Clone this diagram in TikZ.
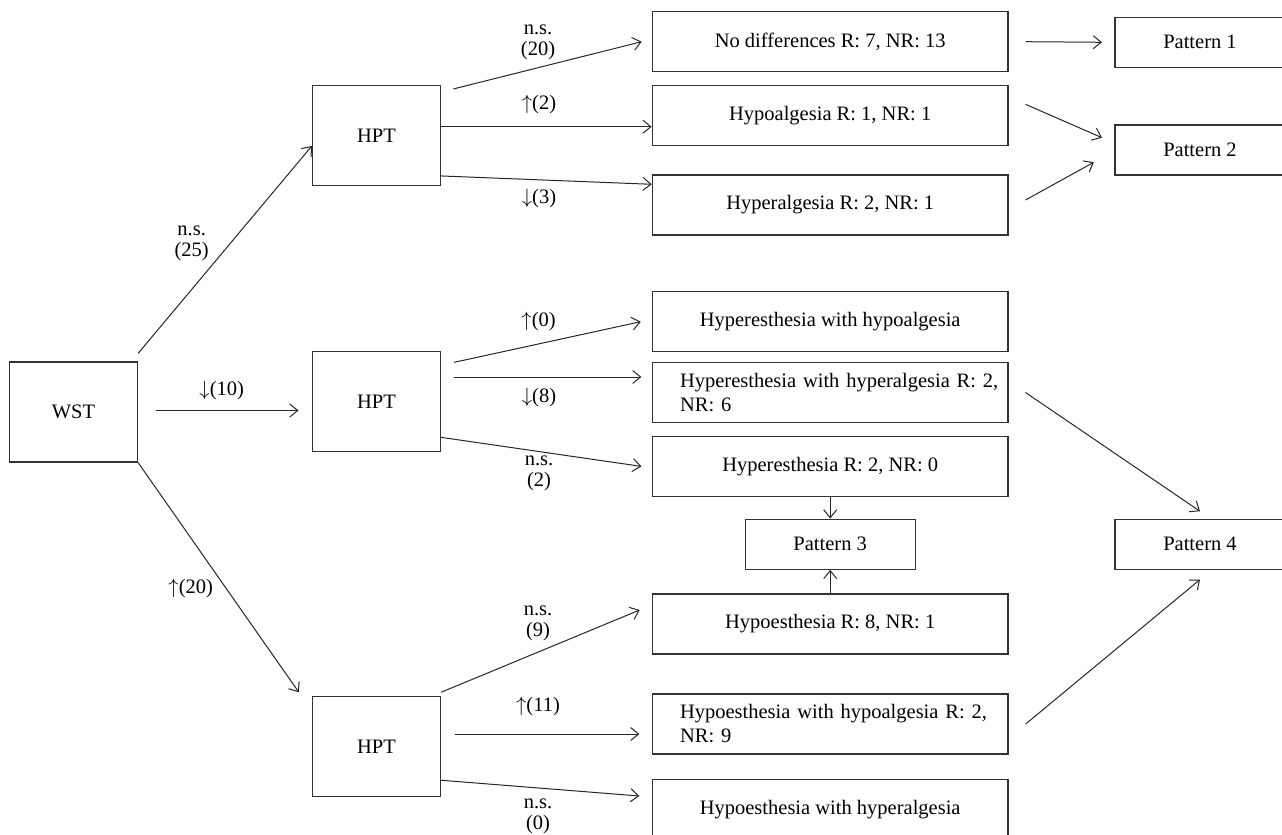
\documentclass[tikz,border=0pt]{standalone}
\usepackage{fontspec}
\setmainfont{Liberation Serif}
\usetikzlibrary{arrows.meta}
\newcommand{\upa}{\ensuremath{\uparrow}}
\newcommand{\dna}{\ensuremath{\downarrow}}
\begin{document}
\begin{tikzpicture}[x=1pt,y=-1pt,
  font=\fontsize{20.5}{24}\selectfont,
  sq/.style={draw=black!80, line width=1.3pt, minimum width=128pt, minimum height=100pt, inner sep=0pt},
  mainbox/.style={draw=black!80, line width=1.3pt, minimum width=355.7pt, minimum height=60pt, inner sep=0pt},
  twoline/.style={mainbox, text width=300.3pt, inner xsep=27.7pt, align=left},
  patbox/.style={draw=black!80, line width=1.3pt, minimum width=170pt, minimum height=50pt, inner sep=0pt},
  arr/.style={draw=black!85, line width=1pt, -{Straight Barb[length=8pt,width=13pt,line width=1pt]}},
  lbl/.style={align=center, inner sep=0pt, font=\fontsize{20.5}{21}\selectfont}]
\clip (0,0) rectangle (1282,835);
% left column
\node[sq] (wst) at (73.5,412) {WST};
\node[sq] (hpt1) at (376.5,135.3) {HPT};
\node[sq] (hpt2) at (376.5,401.7) {HPT};
\node[sq] (hpt3) at (376.5,746.3) {HPT};
% outcome boxes
\node[mainbox] (nodiff) at (830.2,41.7) {No differences R: 7, NR: 13};
\node[mainbox] (hypoalg) at (830.2,115.7) {Hypoalgesia R: 1, NR: 1};
\node[mainbox] (hyperalg) at (830.2,205) {Hyperalgesia R: 2, NR: 1};
\node[mainbox] (hhypo) at (830.2,321.7) {Hyperesthesia with hypoalgesia};
\node[twoline] (hhyper) at (830.2,392.5) {\mbox{Hyperesthesia with hyperalgesia R: 2,}\\NR: 6};
\node[mainbox] (hyperesth) at (830.2,466.4) {Hyperesthesia R: 2, NR: 0};
\node[mainbox] (hypoesth) at (830.2,624) {Hypoesthesia R: 8, NR: 1};
\node[twoline] (hypohypo) at (830.2,724) {\mbox{Hypoesthesia with hypoalgesia R: 2,}\\NR: 9};
\node[mainbox] (hypohyper) at (830.2,809.3) {Hypoesthesia with hyperalgesia};
% patterns
\node[patbox] (p1) at (1200,42.3) {Pattern 1};
\node[patbox] (p2) at (1200,150) {Pattern 2};
\node[patbox] (p3) at (830.2,544.2) {Pattern 3};
\node[patbox] (p4) at (1200,544.2) {Pattern 4};
% WST connectors
\draw[arr] ([yshift=8pt]wst.north east) -- ([yshift=-10.7pt]hpt1.west);
\draw[arr] ([xshift=17.4pt,yshift=1.5pt]wst.east) -- ([xshift=-13.3pt,yshift=-8.8pt]hpt2.west);
\draw[arr] (wst.south east) -- ([xshift=-13pt,yshift=3.4pt]hpt3.north west);
\node[lbl] (l25) at (191.7,243) {n.s.\\(25)};
\node[lbl] (l10) at (221.7,390) {\dna(10)};
\node[lbl] (l20) at (190.7,588.3) {\upa(20)};
% HPT1 connectors
\draw[arr] ([xshift=12.3pt,yshift=-4.3pt]hpt1.north east) -- ([xshift=-10pt]nodiff.west);
\draw[arr] ([yshift=8.6pt]hpt1.east) -- ([yshift=-11pt]hypoalg.west);
\draw[arr] ([yshift=10pt]hpt1.south east) -- ([yshift=20.7pt]hyperalg.west);
\node[lbl] (l20b) at (538,42.5) {n.s.\\(20)};
\node[lbl] (l2) at (539,104) {\upa(2)};
\node[lbl] (l3) at (539,198) {\dna(3)};
% HPT2 connectors
\draw[arr] ([xshift=12.9pt,yshift=-11.3pt]hpt2.north east) -- ([xshift=-11pt]hhypo.west);
\draw[arr] ([xshift=12.6pt,yshift=24.7pt]hpt2.east) -- ([xshift=-10.3pt,yshift=15.5pt]hhyper.west);
\draw[arr] ([yshift=15pt]hpt2.south east) -- ([xshift=-10.3pt]hyperesth.west);
\node[lbl] (l0) at (538.6,321) {\upa(0)};
\node[lbl] (l8) at (539,397.7) {\dna(8)};
\node[lbl] (l2b) at (539,473) {n.s.\\(2)};
% HPT3 connectors
\draw[arr] ([yshift=3.4pt]hpt3.north east) -- ([xshift=-12pt,yshift=14pt]hypoesth.west);
\draw[arr] ([xshift=13.5pt,yshift=12.3pt]hpt3.east) -- ([xshift=-12.3pt,yshift=-10pt]hypohypo.west);
\draw[arr] ([yshift=16.7pt]hpt3.south east) -- ([xshift=-12.3pt,yshift=13.3pt]hypohyper.west);
\node[lbl] (l9) at (538,623.5) {n.s.\\(9)};
\node[lbl] (l11) at (538,706.7) {\upa(11)};
\node[lbl] (l0b) at (538,816.3) {n.s.\\(0)};
% to patterns
\draw[arr] ([xshift=16.8pt]nodiff.east) -- ([xshift=-12.4pt]p1.west);
\draw[arr] ([xshift=16.8pt,yshift=11.4pt]hypoalg.east) -- ([xshift=-12.4pt,yshift=12.3pt]p2.west);
\draw[arr] ([xshift=16.8pt,yshift=5pt]hyperalg.east) -- ([xshift=-20.6pt,yshift=-12.3pt]p2.west);
\draw[arr] ([xshift=16.8pt]hhyper.east) -- ([yshift=7.3pt]p4.north);
\draw[arr] ([xshift=17pt]hypohypo.east) -- ([yshift=-9.7pt]p4.south);
\draw[arr] (hyperesth.south) -- (p3.north);
\draw[arr] (hypoesth.north) -- (p3.south);
\end{tikzpicture}
\end{document}
